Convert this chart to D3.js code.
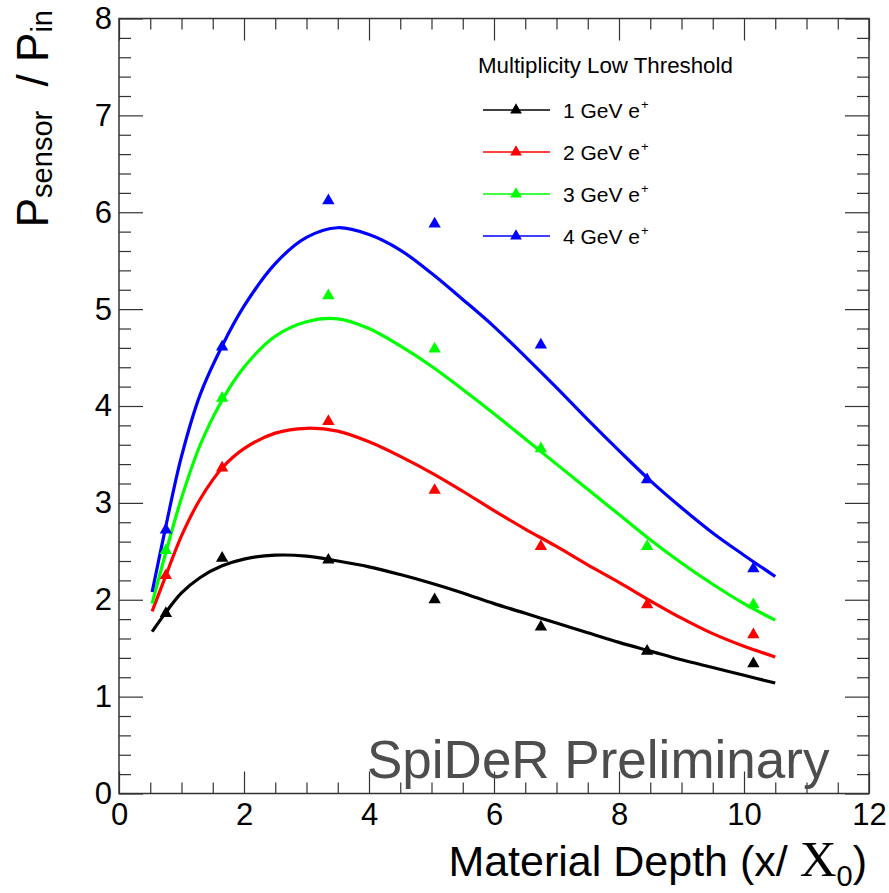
<!DOCTYPE html>
<html>
<head>
<meta charset="utf-8">
<script src="https://cdn.jsdelivr.net/npm/d3@7"></script>
<style>
  body { margin: 0; background: #fff; }
  svg { display: block; font-family: 'Liberation Sans', Arial, sans-serif; }
</style>
</head>
<body>
<svg id="chart" width="889" height="893"></svg>
<script>
// measured points: material depth (x/X0)
const depth = [0.75, 1.65, 3.35, 5.05, 6.75, 8.45, 10.15];

// P_sensor / P_in per beam energy
const ratio1GeV = [1.86, 2.43, 2.41, 2.00, 1.72, 1.47, 1.34];
const ratio2GeV = [2.25, 3.36, 3.84, 3.13, 2.55, 1.95, 1.64];
const ratio3GeV = [2.51, 4.08, 5.14, 4.59, 3.56, 2.55, 1.95];
const ratio4GeV = [2.72, 4.61, 6.12, 5.88, 4.63, 3.24, 2.32];

// fit curves
const fitDepth = [0.53, 0.75, 1.0, 1.3, 1.65, 2.0, 2.5, 3.0, 3.5, 4.0, 4.5, 5.0,
                  5.5, 6.0, 6.5, 7.0, 7.5, 8.0, 8.5, 9.0, 9.5, 10.0, 10.5];
const fit1GeV = [1.67, 1.87, 2.07, 2.23, 2.35, 2.42, 2.46, 2.45, 2.40, 2.34, 2.26, 2.17,
                 2.07, 1.96, 1.86, 1.76, 1.66, 1.56, 1.47, 1.38, 1.30, 1.22, 1.14];
const fit2GeV = [1.88, 2.25, 2.66, 3.04, 3.36, 3.56, 3.72, 3.77, 3.74, 3.63, 3.48, 3.31,
                 3.12, 2.92, 2.73, 2.55, 2.36, 2.18, 1.99, 1.81, 1.65, 1.52, 1.41];
const fit3GeV = [1.96, 2.49, 3.05, 3.60, 4.06, 4.40, 4.72, 4.87, 4.90, 4.80, 4.62, 4.41,
                 4.17, 3.92, 3.66, 3.40, 3.14, 2.88, 2.62, 2.38, 2.16, 1.96, 1.79];
const fit4GeV = [2.08, 2.76, 3.48, 4.12, 4.62, 5.03, 5.47, 5.74, 5.84, 5.77, 5.61, 5.37,
                 5.10, 4.82, 4.51, 4.19, 3.86, 3.54, 3.23, 2.95, 2.69, 2.46, 2.24];

const seriesLabels = ['1 GeV e', '2 GeV e', '3 GeV e', '4 GeV e'];
const seriesColors = ['#000000', '#ff0000', '#00ff00', '#0000ff'];

const xTicks = [0, 2, 4, 6, 8, 10, 12];
const yTicks = [0, 1, 2, 3, 4, 5, 6, 7, 8];

const series = [
    { label: seriesLabels[0], color: seriesColors[0], points: ratio1GeV, fit: fit1GeV },
    { label: seriesLabels[1], color: seriesColors[1], points: ratio2GeV, fit: fit2GeV },
    { label: seriesLabels[2], color: seriesColors[2], points: ratio3GeV, fit: fit3GeV },
    { label: seriesLabels[3], color: seriesColors[3], points: ratio4GeV, fit: fit4GeV },
];

const svg = d3.select('#chart');
const margin = { top: 18.5, left: 119, right: 20, bottom: 99.5 };
const width = 889 - margin.left - margin.right;
const height = 893 - margin.top - margin.bottom;

const x = d3.scaleLinear().domain([0, 12]).range([0, width]);
const y = d3.scaleLinear().domain([0, 8]).range([height, 0]);

const plot = svg.append('g').attr('transform', `translate(${margin.left},${margin.top})`);

// minor tick values
const xMinor = d3.range(0, 12.01, 0.5).filter(v => v % 2 !== 0);
const yMinor = d3.range(0, 8.01, 0.2).map(v => +v.toFixed(1)).filter(v => v % 1 !== 0);

function styleAxis(g) {
    g.select('.domain').remove();
    g.selectAll('line').attr('stroke', '#333').attr('stroke-width', 1.2);
    g.selectAll('text').attr('fill', '#000').style('font-size', '31px')
        .style('font-family', "'Liberation Sans', Arial, sans-serif");
}

// bottom
plot.append('g').attr('transform', `translate(0,${height})`)
    .call(d3.axisBottom(x).tickValues(xTicks).tickSize(-22).tickPadding(9).tickFormat(d3.format('d')))
    .call(styleAxis);
plot.append('g').attr('transform', `translate(0,${height})`)
    .call(d3.axisBottom(x).tickValues(xMinor).tickSize(-11).tickFormat(''))
    .call(styleAxis);
// top
plot.append('g')
    .call(d3.axisTop(x).tickValues(xTicks).tickSize(-22).tickFormat(''))
    .call(styleAxis);
plot.append('g')
    .call(d3.axisTop(x).tickValues(xMinor).tickSize(-11).tickFormat(''))
    .call(styleAxis);
// left
plot.append('g')
    .call(d3.axisLeft(y).tickValues(yTicks).tickSize(-24).tickPadding(7).tickFormat(d3.format('d')))
    .call(styleAxis);
plot.append('g')
    .call(d3.axisLeft(y).tickValues(yMinor).tickSize(-12).tickFormat(''))
    .call(styleAxis);
// right
plot.append('g').attr('transform', `translate(${width},0)`)
    .call(d3.axisRight(y).tickValues(yTicks).tickSize(-24).tickFormat(''))
    .call(styleAxis);
plot.append('g').attr('transform', `translate(${width},0)`)
    .call(d3.axisRight(y).tickValues(yMinor).tickSize(-12).tickFormat(''))
    .call(styleAxis);

plot.append('rect')
    .attr('width', width).attr('height', height)
    .attr('fill', 'none').attr('stroke', '#333').attr('stroke-width', 1.5);

// fit curves
const line = d3.line()
    .x((d, i) => x(fitDepth[i]))
    .y(d => y(d))
    .curve(d3.curveCatmullRom);

plot.selectAll('.fit')
    .data(series)
    .enter()
    .append('path')
    .attr('class', 'fit')
    .attr('d', d => line(d.fit))
    .attr('fill', 'none')
    .attr('stroke', d => d.color)
    .attr('stroke-width', 3.2);

// markers
const tri = d3.symbol().type(d3.symbolTriangle).size(66);
series.forEach((s) => {
    plot.append('g').selectAll('path')
        .data(s.points)
        .enter()
        .append('path')
        .attr('d', tri)
        .attr('transform', (d, i) => `translate(${x(depth[i])},${y(d)})`)
        .attr('fill', s.color);
});

// watermark
svg.append('text')
    .attr('x', 367).attr('y', 778)
    .attr('fill', '#4d4d4d')
    .style('font-size', '53px')
    .text('SpiDeR Preliminary');

// legend
const legend = svg.append('g');
legend.append('text')
    .attr('x', 478).attr('y', 73)
    .style('font-size', '22.3px')
    .text('Multiplicity Low Threshold');

const legendRows = [110, 152, 194, 236];
series.forEach((s, i) => {
    const row = legend.append('g').attr('transform', `translate(0,${legendRows[i]})`);
    row.append('line')
        .attr('x1', 483).attr('x2', 550)
        .attr('stroke', s.color).attr('stroke-width', 1.6);
    row.append('path').attr('d', d3.symbol().type(d3.symbolTriangle).size(60))
        .attr('transform', 'translate(516,0)')
        .attr('fill', s.color);
    const t = row.append('text').attr('x', 563).attr('y', 8).style('font-size', '21px');
    t.append('tspan').text(s.label);
    t.append('tspan').attr('dy', -9).attr('dx', 1).style('font-size', '13px').text('+');
});

// axis titles
const xt = svg.append('text')
    .attr('x', 867).attr('y', 876)
    .attr('text-anchor', 'end')
    .style('font-size', '43px');
xt.append('tspan').text('Material Depth (x/ ');
xt.append('tspan').style('font-family', "'Liberation Serif', 'Times New Roman', serif").style('font-size', '51px').text('X');
xt.append('tspan').attr('dy', 10).style('font-size', '29px').text('0');
xt.append('tspan').attr('dy', -10).text(')');

const yt = svg.append('text')
    .attr('transform', 'translate(48,10) rotate(-90)')
    .attr('text-anchor', 'end')
    .style('font-size', '44px');
yt.append('tspan').text('P');
yt.append('tspan').attr('dy', 4).style('font-size', '29px').text('sensor');
yt.append('tspan').attr('dy', -4).text('\u00a0\u00a0/ P');
yt.append('tspan').attr('dy', 4).style('font-size', '29px').text('in');
</script>
</body>
</html>
